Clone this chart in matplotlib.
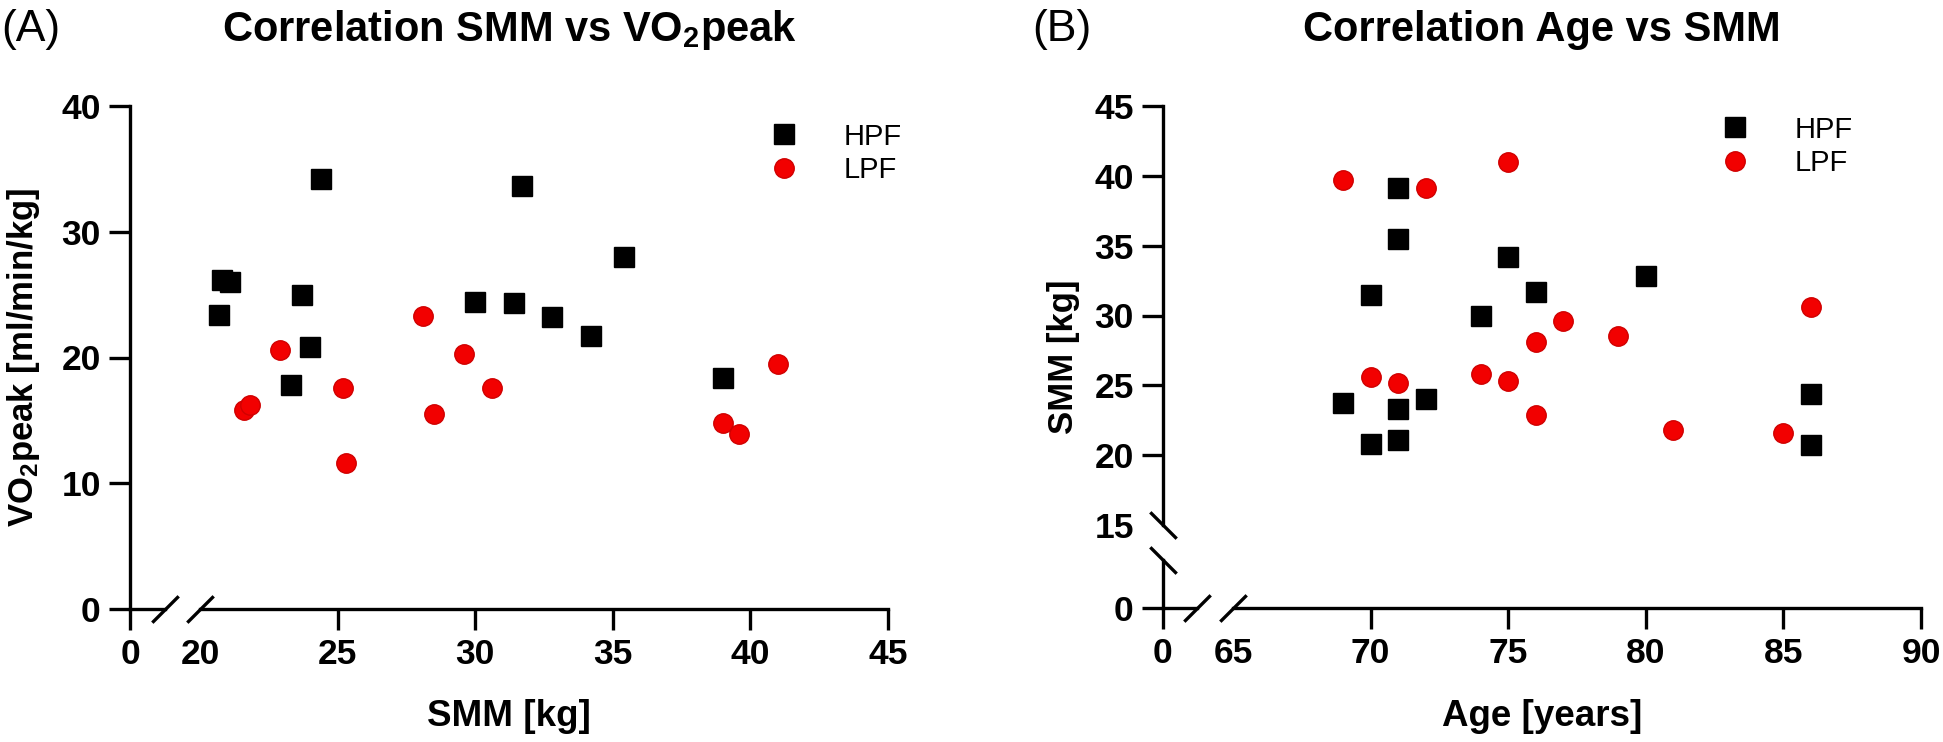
import matplotlib
matplotlib.use("Agg")
import matplotlib.pyplot as plt

plt.rcParams['font.family'] = ['Liberation Sans', 'DejaVu Sans']
plt.rcParams['font.weight'] = 'bold'
plt.rcParams['mathtext.fontset'] = 'custom'
plt.rcParams['mathtext.rm'] = 'Liberation Sans:bold'
plt.rcParams['mathtext.bf'] = 'Liberation Sans:bold'
plt.rcParams['mathtext.it'] = 'Liberation Sans:bold'

# Panel A: SMM [kg] vs VO2peak [ml/min/kg]
hpf_smm_a = [24.4, 31.7, 20.8, 21.1, 23.7, 20.7, 24.0, 23.3, 30.0, 31.4, 32.8, 35.4, 34.2, 39.0]
hpf_vo2_a = [34.2, 33.6, 26.2, 26.0, 25.0, 23.4, 20.8, 17.8, 24.4, 24.3, 23.2, 28.0, 21.7, 18.4]
lpf_smm_a = [28.1, 22.9, 29.6, 25.2, 30.6, 21.6, 21.8, 28.5, 25.3, 41.0, 39.0, 39.6]
lpf_vo2_a = [23.3, 20.6, 20.3, 17.6, 17.6, 15.8, 16.2, 15.5, 11.6, 19.5, 14.8, 13.9]

# Panel B: Age [years] vs SMM [kg]
hpf_age_b = [71, 71, 70, 75, 76, 74, 69, 71, 72, 70, 71, 80, 86, 86]
hpf_smm_b = [39.1, 35.5, 31.5, 34.2, 31.7, 30.0, 23.7, 23.3, 24.0, 20.8, 21.1, 32.8, 24.4, 20.7]
lpf_age_b = [69, 72, 75, 70, 71, 74, 75, 76, 76, 77, 79, 86, 81, 85]
lpf_smm_b = [39.7, 39.1, 41.0, 25.6, 25.2, 25.8, 25.3, 28.1, 22.9, 29.6, 28.5, 30.6, 21.8, 21.6]

xticks_a = [20, 25, 30, 35, 40, 45]
yticks_a = [0, 10, 20, 30, 40]
xticks_b = [65, 70, 75, 80, 85, 90]
yticks_b = [15, 20, 25, 30, 35, 40, 45]

W, H = 1943, 742
fig = plt.figure(figsize=(W / 100, H / 100), dpi=100)

LW = 2.4
TICK = dict(length=15, width=LW, labelsize=25.5, pad=6)
RED = '#f20000'


def px_axes(x0, x1, ytop, ybot):
    return fig.add_axes([x0 / W, 1 - ybot / H, (x1 - x0) / W, (ybot - ytop) / H])


def style(ax, left=False, bottom=False):
    for side in ['top', 'right', 'left', 'bottom']:
        ax.spines[side].set_visible(False)
    ax.spines['left'].set_visible(left)
    ax.spines['bottom'].set_visible(bottom)
    for side in ['left', 'bottom']:
        ax.spines[side].set_linewidth(LW)
    ax.tick_params(**TICK)
    ax.patch.set_alpha(0)
    if not left:
        ax.set_yticks([])
    if not bottom:
        ax.set_xticks([])


def slash(ax, x, y, back=False):
    verts = [(-1, 1), (1, -1)] if back else [(-1, -1), (1, 1)]
    ax.plot([x], [y], transform=ax.transAxes, marker=verts, markersize=19,
            linestyle='none', color='k', mec='k', mew=LW, clip_on=False)


def scatter(ax, hx, hy, lx, ly):
    ax.plot(hx, hy, 's', color='k', markersize=14, label='HPF', clip_on=False)
    ax.plot(lx, ly, 'o', color=RED, mec='#d00000', markersize=14, label='LPF', clip_on=False)


def legend(ax, x, y):
    ax.legend(loc='upper left', bbox_to_anchor=(x / W, 1 - y / H),
              bbox_transform=fig.transFigure, frameon=False, borderpad=0,
              handlelength=1.0, handletextpad=1.55, labelspacing=0.2,
              prop=dict(family='Liberation Sans', weight='normal', size=21))


# ---- Panel A ----
axA0 = px_axes(130, 165, 106, 609)
style(axA0, left=True, bottom=True)
axA0.set_xlim(0, 1)
axA0.set_ylim(0, 40)
axA0.set_xticks([0])
axA0.set_yticks(yticks_a)
slash(axA0, 1, 0)

axA1 = px_axes(200, 888, 106, 609)
style(axA1, bottom=True)
axA1.set_xlim(20, 45)
axA1.set_ylim(0, 40)
axA1.set_xticks(xticks_a)
axA1.xaxis.get_major_ticks()[0].tick1line.set_visible(False)
slash(axA1, 0, 0)
scatter(axA1, hpf_smm_a, hpf_vo2_a, lpf_smm_a, lpf_vo2_a)
legend(axA1, 755, 108)

# ---- Panel B ----
axBtl = px_axes(1163, 1197, 106, 525)
style(axBtl, left=True)
axBtl.set_ylim(15, 45)
axBtl.set_yticks(yticks_b)
axBtl.yaxis.get_major_ticks()[0].tick1line.set_visible(False)
slash(axBtl, 0, 0, back=True)

axBbl = px_axes(1163, 1197, 560, 608)
style(axBbl, left=True, bottom=True)
axBbl.set_xlim(0, 1)
axBbl.set_ylim(0, 1)
axBbl.set_xticks([0])
axBbl.set_yticks([0])
slash(axBbl, 0, 1, back=True)
slash(axBbl, 1, 0)

axBbr = px_axes(1233, 1921, 560, 608)
style(axBbr, bottom=True)
axBbr.set_xlim(65, 90)
axBbr.set_xticks(xticks_b)
axBbr.xaxis.get_major_ticks()[0].tick1line.set_visible(False)
slash(axBbr, 0, 0)

axBtr = px_axes(1233, 1921, 106, 525)
style(axBtr)
axBtr.set_xlim(65, 90)
axBtr.set_ylim(15, 45)
scatter(axBtr, hpf_age_b, hpf_smm_b, lpf_age_b, lpf_smm_b)
legend(axBtr, 1706, 101)

# ---- texts ----
fig.text(1 / W, 1 - 30 / H, '(A)', fontsize=32, weight='normal', ha='left', va='center')
fig.text(1032 / W, 1 - 30 / H, '(B)', fontsize=32, weight='normal', ha='left', va='center')
fig.text(509 / W, 1 - 30 / H, r'Correlation SMM vs VO$_2$peak', fontsize=30, ha='center', va='center')
fig.text(1542 / W, 1 - 30 / H, 'Correlation Age vs SMM', fontsize=30, ha='center', va='center')
fig.text(509 / W, 1 - 716 / H, 'SMM [kg]', fontsize=26.5, ha='center', va='center')
fig.text(1542 / W, 1 - 716 / H, 'Age [years]', fontsize=26.5, ha='center', va='center')
fig.text(24 / W, 1 - 357 / H, r'VO$_2$peak [ml/min/kg]', fontsize=25, rotation=90, ha='center', va='center')
fig.text(1064 / W, 1 - 357 / H, 'SMM [kg]', fontsize=25, rotation=90, ha='center', va='center')

fig.savefig('out.png', dpi=100)
